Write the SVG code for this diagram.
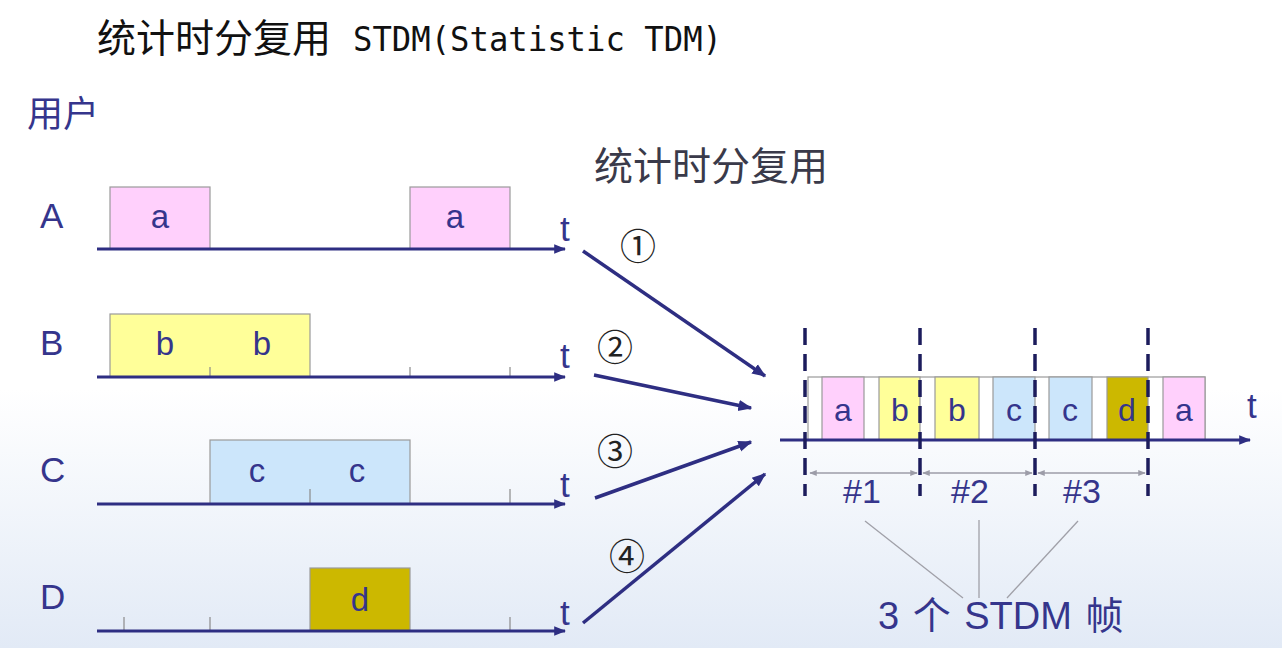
<svg xmlns="http://www.w3.org/2000/svg" width="1282" height="648" viewBox="0 0 1282 648">
<style>
.lbl{font-family:"Liberation Sans",Arial,sans-serif;fill:#35358c;}
.cjk{font-family:"Noto Sans CJK SC",sans-serif;}
.axis{stroke:#2e2e82;stroke-width:3;fill:none;}
.conn{stroke:#2e2e82;stroke-width:3.5;fill:none;}
.tick{stroke:#8a8a8a;stroke-width:1.2;}
.box{stroke:#9a9a9a;stroke-width:1.2;}
.pa{fill:#ffd0fc;}
.pb{fill:#ffff99;}
.pc{fill:#cce6fb;}
.pd{fill:#ccb800;}
.dash{stroke:#1c1c5c;stroke-width:3.5;stroke-dasharray:17 9;}
.dim{stroke:#9c9ca8;stroke-width:1.5;fill:none;}
.lead{stroke:#a0a0a8;stroke-width:1.3;}
</style>
<defs>
<linearGradient id="bg" x1="0" y1="0" x2="0" y2="1">
<stop offset="0" stop-color="#ffffff"/>
<stop offset="0.6" stop-color="#ffffff"/>
<stop offset="1" stop-color="#e2eaf6"/>
</linearGradient>
<marker id="ah" viewBox="0 0 10 10" refX="9" refY="5" markerWidth="4" markerHeight="4" orient="auto" markerUnits="strokeWidth">
<path d="M0,1 L10,5 L0,9 z" fill="#2e2e82"/>
</marker>
<marker id="dh" viewBox="0 0 10 10" refX="9" refY="5" markerWidth="6" markerHeight="5" orient="auto-start-reverse" markerUnits="strokeWidth">
<path d="M0,1 L10,5 L0,9 z" fill="#9c9ca8"/>
</marker>
</defs>
<rect width="1282" height="648" fill="url(#bg)"/>

<g id="title">
<text x="97" y="52" font-size="39" fill="#111" class="cjk">统计时分复用</text>
<text x="353" y="51" font-size="33" fill="#111" font-family="DejaVu Sans Mono,monospace" textLength="369" lengthAdjust="spacingAndGlyphs">STDM(Statistic TDM)</text>
</g>
<g id="users-label"><text x="27" y="127" font-size="36" fill="#35358c" class="cjk">用户</text></g>
<g id="mux-label"><text x="594" y="180" font-size="39" fill="#3a3a4a" class="cjk">统计时分复用</text></g>

<g id="user-A">
<text x="40" y="228" font-size="35" class="lbl">A</text>
<rect x="110" y="187" width="100" height="62" class="box pa"/>
<rect x="410" y="187" width="100" height="62" class="box pa"/>
<text x="160" y="228" font-size="33" class="lbl" text-anchor="middle">a</text>
<text x="455" y="228" font-size="33" class="lbl" text-anchor="middle">a</text>
<line x1="97" y1="249" x2="565" y2="249" class="axis" marker-end="url(#ah)"/>
<text x="560" y="241" font-size="35" class="lbl">t</text>
</g>

<g id="user-B">
<text x="40" y="355" font-size="35" class="lbl">B</text>
<rect x="110" y="314" width="200" height="63" class="box pb"/>
<line x1="210" y1="367" x2="210" y2="377" class="tick"/>
<line x1="410" y1="367" x2="410" y2="377" class="tick"/>
<line x1="510" y1="367" x2="510" y2="377" class="tick"/>
<text x="165" y="355" font-size="33" class="lbl" text-anchor="middle">b</text>
<text x="262" y="355" font-size="33" class="lbl" text-anchor="middle">b</text>
<line x1="97" y1="377" x2="565" y2="377" class="axis" marker-end="url(#ah)"/>
<text x="560" y="368" font-size="35" class="lbl">t</text>
</g>

<g id="user-C">
<text x="40" y="482" font-size="35" class="lbl">C</text>
<rect x="210" y="440" width="200" height="64" class="box pc"/>
<line x1="310" y1="489" x2="310" y2="504" class="tick"/>
<line x1="510" y1="489" x2="510" y2="504" class="tick"/>
<text x="257" y="482" font-size="33" class="lbl" text-anchor="middle">c</text>
<text x="357" y="482" font-size="33" class="lbl" text-anchor="middle">c</text>
<line x1="97" y1="504" x2="565" y2="504" class="axis" marker-end="url(#ah)"/>
<text x="560" y="497" font-size="35" class="lbl">t</text>
</g>

<g id="user-D">
<text x="40" y="609" font-size="35" class="lbl">D</text>
<rect x="310" y="568" width="100" height="63" class="box pd"/>
<line x1="124" y1="617" x2="124" y2="631" class="tick"/>
<line x1="210" y1="617" x2="210" y2="631" class="tick"/>
<line x1="510" y1="617" x2="510" y2="631" class="tick"/>
<text x="360" y="611" font-size="33" class="lbl" text-anchor="middle">d</text>
<line x1="97" y1="631" x2="565" y2="631" class="axis" marker-end="url(#ah)"/>
<text x="560" y="625" font-size="35" class="lbl">t</text>
</g>

<g id="connectors">
<line x1="583" y1="251" x2="765" y2="376" class="conn" marker-end="url(#ah)"/>
<line x1="594" y1="375" x2="751" y2="408" class="conn" marker-end="url(#ah)"/>
<line x1="595" y1="498" x2="751" y2="442" class="conn" marker-end="url(#ah)"/>
<line x1="583" y1="623" x2="765" y2="474" class="conn" marker-end="url(#ah)"/>
<g class="cjk" font-size="36" fill="#222" text-anchor="middle">
<text x="638" y="260">①</text>
<text x="615" y="361">②</text>
<text x="615" y="465">③</text>
<text x="627" y="570">④</text>
</g>
</g>

<g id="stdm-frame">
<rect x="808" y="377" width="397" height="63" fill="#fff" class="box"/>
<rect x="822" y="377" width="42" height="63" class="box pa"/>
<rect x="879" y="377" width="41" height="63" class="box pb"/>
<rect x="935" y="377" width="44" height="63" class="box pb"/>
<rect x="993" y="377" width="42" height="63" class="box pc"/>
<rect x="1049" y="377" width="43" height="63" class="box pc"/>
<rect x="1107" y="377" width="41" height="63" class="box pd"/>
<rect x="1163" y="377" width="42" height="63" class="box pa"/>
<g font-size="32" class="lbl" text-anchor="middle">
<text x="843" y="421">a</text>
<text x="900" y="421">b</text>
<text x="957" y="421">b</text>
<text x="1014" y="421">c</text>
<text x="1070" y="421">c</text>
<text x="1127" y="421">d</text>
<text x="1184" y="421">a</text>
</g>
<line x1="780" y1="440" x2="1250" y2="440" class="axis" marker-end="url(#ah)"/>
<text x="1247" y="418" font-size="35" class="lbl">t</text>
<line x1="805" y1="328" x2="805" y2="496" class="dash"/>
<line x1="920" y1="328" x2="920" y2="496" class="dash"/>
<line x1="1035" y1="328" x2="1035" y2="496" class="dash"/>
<line x1="1148" y1="328" x2="1148" y2="496" class="dash"/>
<line x1="810" y1="473" x2="917" y2="473" class="dim" marker-start="url(#dh)" marker-end="url(#dh)"/>
<line x1="923" y1="473" x2="1032" y2="473" class="dim" marker-start="url(#dh)" marker-end="url(#dh)"/>
<line x1="1038" y1="473" x2="1145" y2="473" class="dim" marker-start="url(#dh)" marker-end="url(#dh)"/>
<g font-size="34" class="lbl" text-anchor="middle">
<text x="862" y="503">#1</text>
<text x="970" y="503">#2</text>
<text x="1082" y="503">#3</text>
</g>
</g>

<g id="frames-label">
<line x1="865" y1="521" x2="963" y2="598" class="lead"/>
<line x1="979" y1="520" x2="979" y2="598" class="lead"/>
<line x1="1078" y1="521" x2="1007" y2="598" class="lead"/>
<text x="878" y="629" font-size="38" class="lbl" word-spacing="3"><tspan>3 </tspan><tspan class="cjk" fill="#35358c">个</tspan><tspan> STDM </tspan><tspan class="cjk" fill="#35358c">帧</tspan></text>
</g>
</svg>
